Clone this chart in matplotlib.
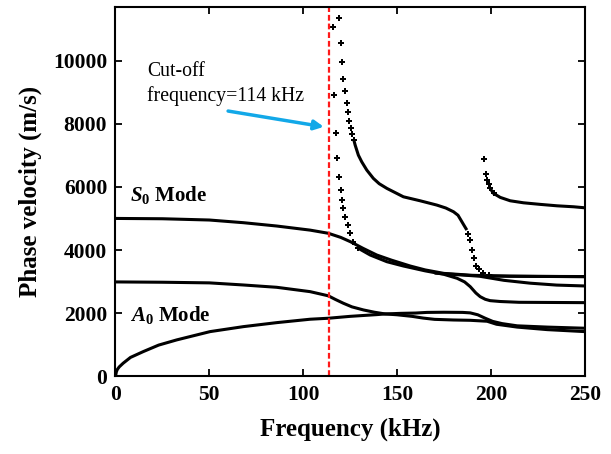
import matplotlib
matplotlib.use("Agg")
from matplotlib import pyplot as plt

plt.rcParams['font.family'] = ['Liberation Serif', 'DejaVu Serif']
plt.rcParams['mathtext.fontset'] = 'custom'
plt.rcParams['mathtext.it'] = 'Liberation Serif:italic:bold'
plt.rcParams['mathtext.rm'] = 'Liberation Serif:bold'
plt.rcParams['mathtext.bf'] = 'Liberation Serif:bold'

# donnees (kHz, m/s)
a0_f = [0, 0.5, 1, 2, 4.1, 8, 14.8, 23, 32.6, 50.4, 68.2, 85.9, 103.7, 113.4, 125, 139.2,
        143.7, 152, 160, 166, 175, 185, 189, 193, 197, 201, 206, 214, 230, 250]
a0_v = [0, 150, 220, 300, 417, 600, 784, 990, 1154, 1417, 1575, 1701, 1809, 1840, 1900, 1955,
        1976, 1995, 2005, 2025, 2030, 2025, 2010, 1950, 1840, 1740, 1670, 1600, 1560, 1524]

a1_f = [0, 25, 50, 68.2, 85.9, 103.7, 113.4, 117, 121.4, 126, 132.1, 138, 143.7, 150, 158,
        164, 170, 180, 189, 198, 203, 214, 230, 250]
a1_v = [2990, 2980, 2960, 2893, 2820, 2682, 2550, 2440, 2315, 2200, 2103, 2030, 1976, 1950,
        1900, 1845, 1805, 1785, 1775, 1745, 1650, 1560, 1480, 1417]

s0_f = [0, 25, 50, 68.2, 85.9, 103.7, 113.4, 120, 125.2, 132, 139.2, 147, 157, 165, 175,
        190, 210, 250]
s0_v = [5000, 4990, 4950, 4865, 4760, 4630, 4530, 4400, 4262, 4050, 3842, 3680, 3494, 3370,
        3260, 3200, 3170, 3156]

# branche qui descend vers 2860 m/s
s0b_f = [170, 182, 194, 207, 221, 235, 250]
s0b_v = [3270, 3220, 3170, 3040, 2950, 2890, 2862]

# mode a la coupure 114 kHz (points epars)
c_dot_f = [116.1, 116.6, 117.5, 118.2, 119.1, 120.0, 120.7, 121.4, 122.5, 123.8, 125.0,
           126.8, 129.4]
c_dot_v = [11060, 8901, 7690, 6900, 6318, 5897, 5581, 5318, 5053, 4790, 4528, 4262, 4054]
c_f = [129.4, 135.7, 144.6, 153.4, 165, 175, 182, 186, 189, 192, 194.3, 197, 199.6, 205,
       215, 250]
c_v = [4054, 3842, 3630, 3494, 3340, 3230, 3105, 2990, 2840, 2640, 2523, 2440, 2397, 2370,
       2345, 2334]

b_dot_f = [119.3, 120.0, 120.6, 121.4, 122.3, 123.2, 123.8, 124.6, 125.5, 126.2, 127.0]
b_dot_v = [11358, 10555, 9955, 9429, 9037, 8658, 8373, 8088, 7848, 7658, 7480]
b_f = [127.0, 127.7, 129.4, 131.2, 133.9, 137.4, 140.5, 144.6, 153.4, 162.3, 171.2, 176,
       180.1, 182.5, 185.5, 187.2]
b_v = [7480, 7320, 7004, 6792, 6530, 6267, 6100, 5951, 5685, 5559, 5423, 5330,
       5211, 5100, 4800, 4632]
b_drop_f = [188.0, 189.0, 190.2, 191.1, 192.2, 193.6, 196.0, 199.0]
b_drop_v = [4500, 4316, 4000, 3737, 3480, 3400, 3263, 3200]
b2_f = [199.0, 201.4, 225, 250]
b2_v = [3200, 3178, 3165, 3160]

d_dot_f = [196.1, 197.4, 198.2, 198.9, 199.6, 201.4]
d_dot_v = [6877, 6403, 6213, 6077, 5951, 5793]
d_f = [199.6, 201.4, 205, 210.3, 217.4, 226.3, 235.2, 244.1, 250]
d_v = [5951, 5793, 5666, 5559, 5495, 5445, 5400, 5369, 5337]

cutoff = 114

fig = plt.figure(figsize=(6.11, 4.54), dpi=100)
ax = fig.add_axes([0.189, 0.171, 0.768, 0.814])

for f, v in [(a0_f, a0_v), (a1_f, a1_v), (s0_f, s0_v), (s0b_f, s0b_v), (c_f, c_v),
             (b_f, b_v), (b2_f, b2_v), (d_f, d_v)]:
    ax.plot(f, v, color='black', lw=2.2, solid_capstyle='butt', solid_joinstyle='round')

for f, v in [(c_dot_f, c_dot_v), (b_dot_f, b_dot_v), (b_drop_f, b_drop_v), (d_dot_f, d_dot_v)]:
    ax.plot(f, v, 'P', color='black', ms=3.8, mew=0)

ax.axvline(cutoff, color='#ff1a1a', ls=(0, (2.6, 1.3)), lw=1.6)

ax.set_xlim(0, 250)
ax.set_ylim(0, 11700)
ax.set_xticks([0, 50, 100, 150, 200, 250])
ax.set_yticks([0, 2000, 4000, 6000, 8000, 10000])
ax.tick_params(direction='in', length=5, width=1.3, top=True, right=True,
               labelsize=15.5, pad=6)
for lab in ax.get_xticklabels() + ax.get_yticklabels():
    lab.set_fontweight('bold')
for s in ax.spines.values():
    s.set_linewidth(1.5)

ax.set_xlabel('Frequency (kHz)', fontsize=18, fontweight='bold', labelpad=9)
ax.set_ylabel('Phase velocity (m/s)', fontsize=18, fontweight='bold', labelpad=8)

ax.text(8, 5540, r'$S_0$ Mode', fontsize=15, fontweight='bold')
ax.text(8, 1740, r'$A_0$ Mode', fontsize=15, fontweight='bold')

ax.text(17, 8730, 'Cut-off\nfrequency=114 kHz', fontsize=14.2, linespacing=1.3)
ax.annotate('', xy=(111, 7900), xytext=(60, 8400),
            arrowprops=dict(arrowstyle='-|>', color='#12a8e8', lw=2.5,
                            mutation_scale=14, shrinkA=0, shrinkB=0))

fig.savefig('out.png', dpi=100)
